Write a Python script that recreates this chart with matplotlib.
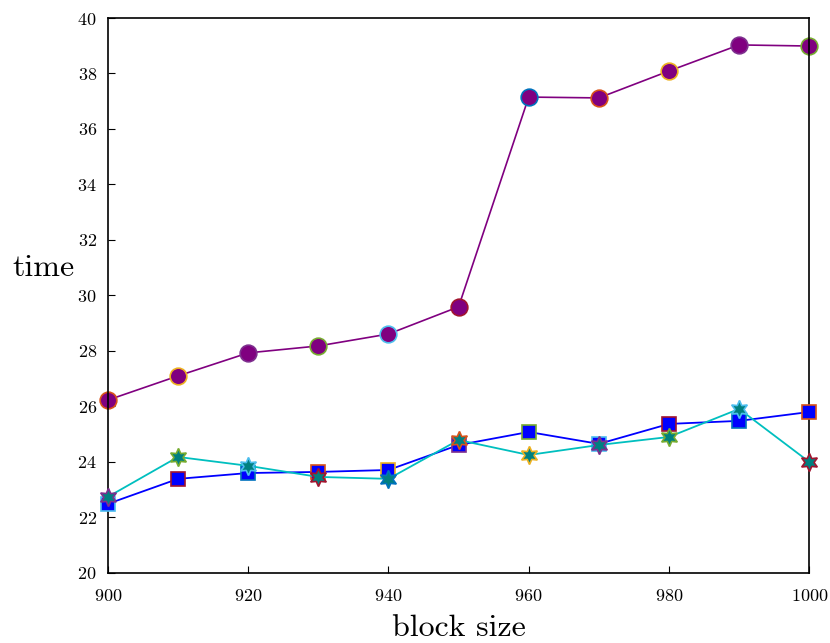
import matplotlib
matplotlib.use('Agg')
import matplotlib.pyplot as plt

block_size = [900, 910, 920, 930, 940, 950, 960, 970, 980, 990, 1000]
time_circle = [26.23, 27.1, 27.93, 28.18, 28.61, 29.59, 37.15, 37.12, 38.09, 39.03, 38.99]
time_square = [22.49, 23.39, 23.6, 23.64, 23.71, 24.61, 25.08, 24.65, 25.37, 25.48, 25.8]
time_star = [22.74, 24.18, 23.86, 23.46, 23.39, 24.79, 24.25, 24.61, 24.9, 25.91, 24.0]

# edge colours cycle point by point
edge_cycle = ['#0072BD', '#D95319', '#EDB120', '#7E2F8E', '#77AC30', '#4DBEEE', '#A2142F']

plt.rcParams['font.family'] = 'serif'
plt.rcParams['font.serif'] = ['cmr10', 'DejaVu Serif']
plt.rcParams['axes.formatter.use_mathtext'] = True

fig = plt.figure(figsize=(8.3, 6.43), dpi=100)
ax = fig.add_axes([0.130, 0.109, 0.845, 0.863])

def draw(y, color, face, marker, ms, offset, lw, z):
    ax.plot(block_size, y, color=color, linewidth=lw, zorder=z)
    for i, (x, v) in enumerate(zip(block_size, y)):
        ax.plot([x], [v], linestyle='None', marker=marker, markersize=ms,
                markerfacecolor=face, markeredgecolor=edge_cycle[(i + offset) % 7],
                markeredgewidth=1.2, zorder=z + 0.5, clip_on=False)

draw(time_circle, 'purple', 'purple', 'o', 12, 1, 1.2, 2)
draw(time_square, 'blue', 'blue', 's', 9.5, 5, 1.3, 3)
# six-pointed stars
draw(time_star, 'c', 'teal', (6, 1, 0), 13, 3, 1.3, 4)

ax.set_xlim(900, 1000)
ax.set_ylim(20, 40)
ax.set_xticks(range(900, 1001, 20))
ax.set_yticks(range(20, 41, 2))
ax.tick_params(direction='in', labelsize=13, length=5, top=False, right=False)
ax.tick_params(axis='x', pad=11)
ax.tick_params(axis='y', pad=8)
for s in ax.spines.values():
    s.set_linewidth(1.2)
ax.set_xlabel('block size', fontsize=23)
ax.set_ylabel('time', fontsize=23, rotation=0)
ax.yaxis.set_label_coords(-0.092, 0.525)
ax.xaxis.set_label_coords(0.5, -0.075)

plt.savefig('out.png', dpi=100)
